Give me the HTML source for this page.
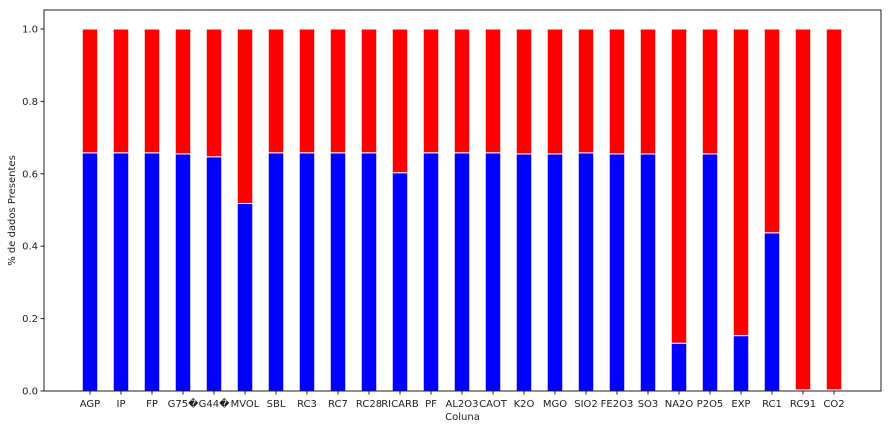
<!DOCTYPE html>
<html><head><meta charset="utf-8"><style>
body{margin:0;background:#fff;font-family:"Liberation Sans","DejaVu Sans",sans-serif;}
svg text{font-family:"DejaVu Sans","Liberation Sans",sans-serif;font-size:10px;fill:#222;}
</style></head><body>
<svg id="chart" width="891" height="429" xmlns="http://www.w3.org/2000/svg">
<g id="bars"></g>
<g id="axes"></g>
</svg>
<script>
const categories=["AGP","IP","FP","G75\uFFFD","G44\uFFFD","MVOL","SBL","RC3","RC7","RC28","RICARB","PF","AL2O3","CAOT","K2O","MGO","SIO2","FE2O3","SO3","NA2O","P2O5","EXP","RC1","RC91","CO2"];
const present=[0.658,0.658,0.658,0.655,0.647,0.518,0.658,0.658,0.658,0.658,0.603,0.658,0.658,0.658,0.655,0.655,0.658,0.655,0.655,0.132,0.655,0.153,0.437,0.003,0.003];
const missing=present.map(v=>1-v);
const yTicks=[0,0.2,0.4,0.6,0.8,1.0];
const yTickLabels=["0.0","0.2","0.4","0.6","0.8","1.0"];

const NS="http://www.w3.org/2000/svg";
const L=44,R=881,T=10,B=391;
const x0=90,step=31,bw=15.5;
function xs(i){return x0+i*step;}
function ys(v){return 391-v*362;}
function mk(tag,attrs,parent,text){const e=document.createElementNS(NS,tag);for(const k in attrs)e.setAttribute(k,attrs[k]);if(text!==undefined)e.textContent=text;parent.appendChild(e);return e;}
const bars=document.getElementById('bars'),axes=document.getElementById('axes');
categories.forEach((c,i)=>{
  const cx=xs(i);
  const b=mk('rect',{x:cx-bw/2,y:ys(present[i]),width:bw,height:ys(0)-ys(present[i]),fill:'#0000ff',stroke:'#fff','stroke-width':1},bars);
  
  
  const top=present[i]+missing[i];
  const r=mk('rect',{x:cx-bw/2,y:ys(top),width:bw,height:ys(present[i])-ys(top),fill:'#ff0000',stroke:'#fff','stroke-width':1},bars);
  
  
  mk('line',{x1:cx,x2:cx,y1:B,y2:B+3.5,stroke:'#222'},axes);
  const t=mk('text',{x:cx,y:B+16,'text-anchor':'middle'},axes,c);
  
  
});
yTicks.forEach((v,i)=>{
  mk('line',{x1:L-3.5,x2:L,y1:ys(v),y2:ys(v),stroke:'#222'},axes);
  const t=mk('text',{x:L-6,y:ys(v)+3.5,'text-anchor':'end'},axes,yTickLabels[i]);
  
  
});
const fr=mk('rect',{x:L,y:T,width:R-L,height:B-T,fill:'none',stroke:'#222','stroke-width':1},axes);


const xl=mk('text',{x:(L+R)/2,y:420,'text-anchor':'middle'},axes,'Coluna');


const yl=mk('text',{x:0,y:0,'text-anchor':'middle',transform:'translate(15,'+((T+B)/2+10)+') rotate(-90)'},axes,'% de dados Presentes');


</script>
</body></html>
